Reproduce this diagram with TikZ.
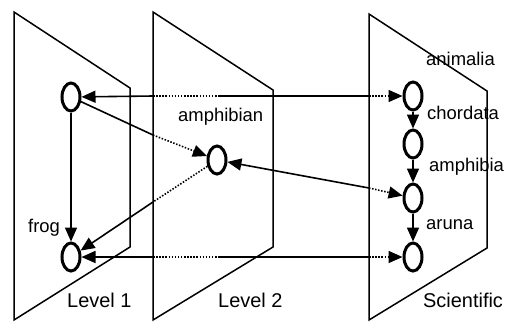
\documentclass[tikz,border=0pt]{standalone}
\usepackage{fontspec}
\setmainfont{Liberation Sans}
\usetikzlibrary{shapes.geometric,arrows.meta}
\begin{document}
\begin{tikzpicture}[x=1bp,y=-1bp,
            plane/.style={draw,line width=1.5bp,line join=miter},
            obj/.style={ellipse,draw,line width=3bp,minimum width=18bp,minimum height=28bp,inner sep=0pt},
            link/.style={line width=1.6bp},
            hid/.style={line width=1.6bp,dash pattern=on 1.5bp off 1.6bp},
            tip/.style={-{Triangle[length=14bp,width=12bp]}},
            lbl/.style={anchor=base west,inner sep=0pt,font=\fontsize{18.5}{20}\selectfont},
            lvl/.style={anchor=base west,inner sep=0pt,font=\fontsize{20}{22}\selectfont}]
            \useasboundingbox (0,0) rectangle (511,322);
            \draw[plane] (14,12) -- (130,88) -- (130,247) -- (14,320) -- cycle;
            \draw[plane] (153,12) -- (273,90) -- (273,247) -- (153,320) -- cycle;
            \draw[plane] (369,14) -- (487,91) -- (487,248) -- (369,320) -- cycle;
            \node[obj] (frogA) at (71,97) {};
            \node[obj] (frogB) at (71,257) {};
            \node[obj] (amph) at (217,160) {};
            \node[obj] (s1) at (413,96) {};
            \node[obj] (s2) at (413,144) {};
            \node[obj] (s3) at (413,198) {};
            \node[obj] (s4) at (413,257) {};
            \coordinate (a1) at (153,96);
            \coordinate (a2) at (220,96);
            \coordinate (a3) at (369,96);
            \coordinate (b1) at (153,135);
            \coordinate (c1) at (153,202);
            \coordinate (d1) at (369,188);
            \coordinate (e1) at (153,257);
            \coordinate (e2) at (220,257);
            \coordinate (e3) at (369,257);
            \draw[link,tip] (frogA) -- (frogB);
            \draw[link,tip] (a1) -- (frogA);
            \draw[hid] (a1) -- (a2);
            \draw[link] (a2) -- (a3);
            \draw[hid,tip] (a3) -- (s1);
            \draw[link] (frogA) -- (b1);
            \draw[hid,tip] (b1) -- (amph);
            \draw[hid] (amph) -- (c1);
            \draw[link,tip] (c1) -- (frogB);
            \draw[link,tip] (d1) -- (amph);
            \draw[hid,tip] (d1) -- (s3);
            \draw[link,tip] (e1) -- (frogB);
            \draw[hid] (e1) -- (e2);
            \draw[link] (e2) -- (e3);
            \draw[hid,tip] (e3) -- (s4);
            \draw[link,tip] (s1) -- (s2);
            \draw[link,tip] (s2) -- (s3);
            \draw[link,tip] (s3) -- (s4);
            \node[lbl] (tfrog) at (28,232) {frog};
            \node[lbl] (tamph) at (178,121) {amphibian};
            \node[lbl] (tanim) at (426,65) {animalia};
            \node[lbl] (tchor) at (427,119) {chordata};
            \node[lbl] (tamphi) at (429,171) {amphibia};
            \node[lbl] (taruna) at (426,229) {aruna};
            \node[lvl] (tlev1) at (67,307) {Level 1};
            \node[lvl] (tlev2) at (218,307) {Level 2};
            \node[lvl] (tsci) at (423,307) {Scientific};
        \end{tikzpicture}
\end{document}
